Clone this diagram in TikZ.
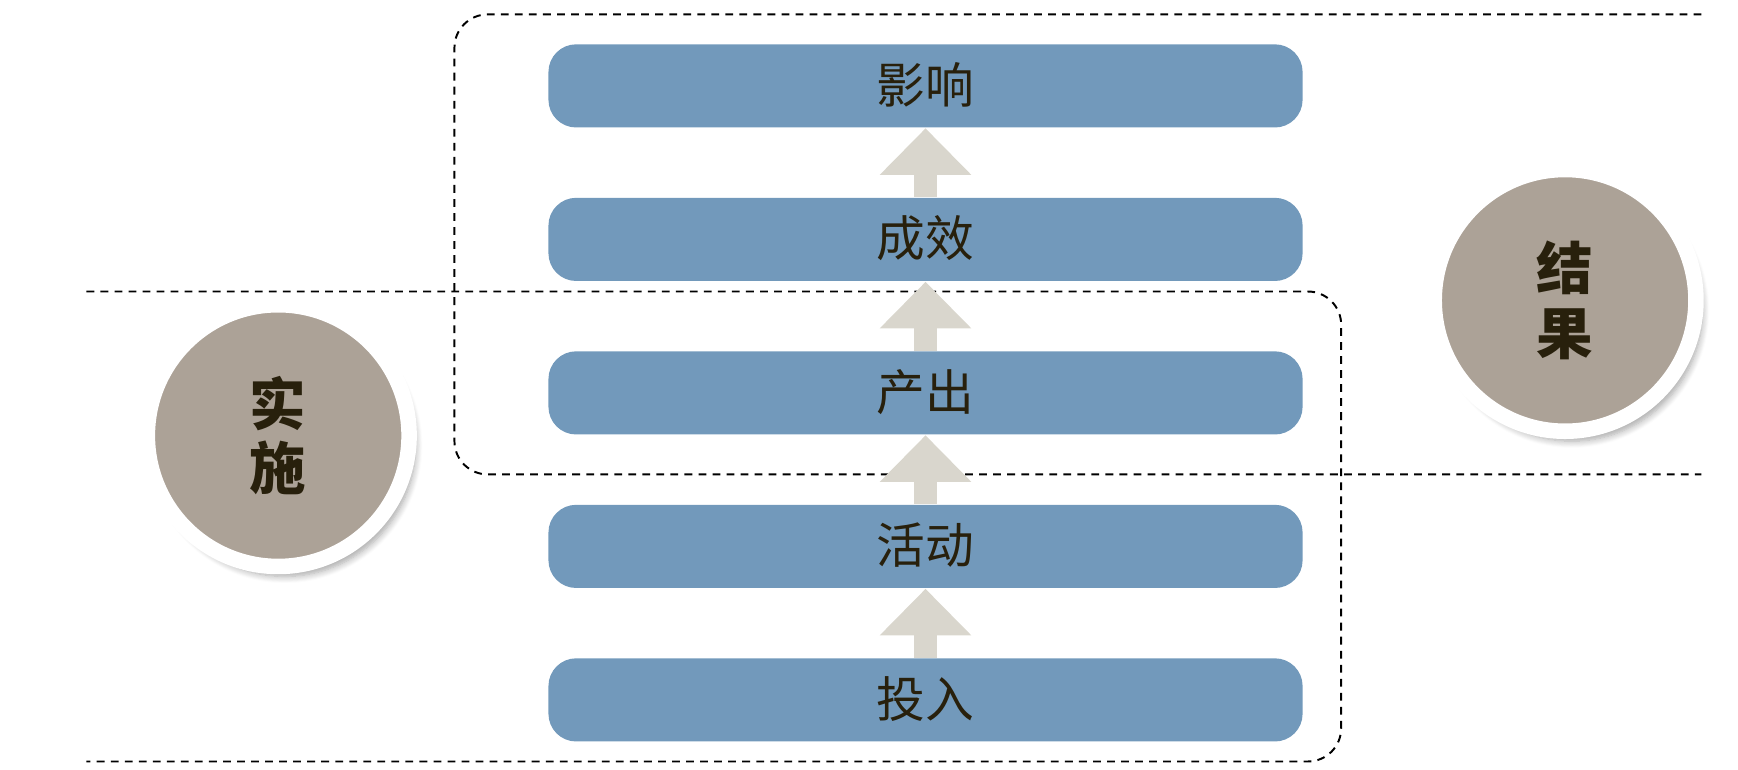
\documentclass[tikz,border=0pt]{standalone}
\usepackage{fontspec}
\newfontfamily\cjk{Noto Sans CJK SC}
\usetikzlibrary{positioning,arrows.meta,shadows.blur}
\definecolor{boxblue}{RGB}{114,153,187}
\definecolor{arrowgray}{RGB}{217,214,205}
\definecolor{phasegray}{RGB}{172,162,151}
\definecolor{inkdark}{RGB}{40,32,12}
\tikzset{stage/.style={fill=boxblue,rounded corners=0.25cm,minimum width=6.8cm,minimum height=0.75cm,inner sep=0pt,
		text height=0.9em,text depth=0em,text=inkdark,font=\cjk\fontsize{12.5}{14}\selectfont},
	phase/.style={circle,fill=phasegray,draw=white,line width=0.14cm,minimum size=2.36cm,align=center,
		text=inkdark,font=\cjk\bfseries\fontsize{14.5}{16.5}\selectfont,
		blur shadow={shadow xshift=0.6mm,shadow yshift=-0.9mm,shadow opacity=35,shadow blur steps=8}},
	flow/.style={draw=arrowgray,line width=0.21cm,-{Triangle[width=0.8cm,length=0.42cm,fill=arrowgray]}},
	region/.style={dash pattern=on 2pt off 1.6pt,line width=0.5pt,rounded corners=0.3cm}}
\begin{document}
\begin{tikzpicture}[x=0.01cm,y=-0.01cm,node distance=0.62cm]
	\useasboundingbox (0,0) rectangle (1568,694);
	% dashed regions
	\draw[region] (1535,13) -| (410,428) -- (1535,428);
	\draw[region] (78,263) -| (1210,687) -- (78,687);
	% chain of stages
	\node[stage] (yx) at (835,77.5) {影响};
	\node[stage,below=of yx] (cx) {成效};
	\node[stage,below=of cx] (cc) {产出};
	\node[stage,below=of cc] (hd) {活动};
	\node[stage,below=of hd] (tr) {投入};
	\draw[flow] (tr) -- (hd);
	\draw[flow] (hd) -- (cc);
	\draw[flow] (cc) -- (cx);
	\draw[flow] (cx) -- (yx);
	% phases
	\node[phase] (ss) at (251,393) {实\\施};
	\node[phase] (jg) at (1412,271) {结\\果};
\end{tikzpicture}
\end{document}
